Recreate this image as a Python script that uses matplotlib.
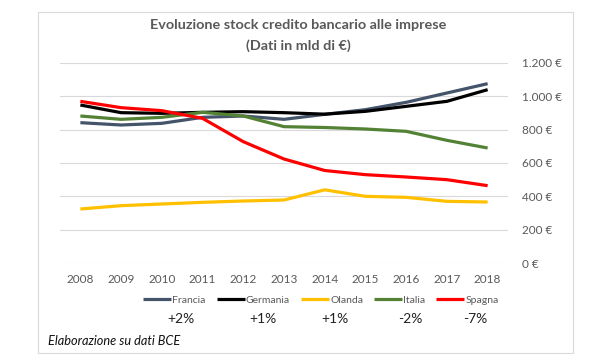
import matplotlib.pyplot as plt
from matplotlib.patches import Rectangle

# Dati (mld di euro)
anni = [2008, 2009, 2010, 2011, 2012, 2013, 2014, 2015, 2016, 2017, 2018]
francia = [842, 828, 838, 874, 882, 862, 892, 920, 964, 1020, 1076]
germania = [948, 902, 898, 904, 908, 902, 893, 910, 940, 970, 1040]
olanda = [324, 344, 354, 364, 372, 378, 439, 400, 394, 370, 366]
italia = [882, 862, 874, 904, 882, 818, 813, 804, 790, 736, 690]
spagna = [970, 932, 914, 868, 728, 624, 555, 530, 516, 500, 464]

serie = [('Francia', francia, '#44546A'),
         ('Germania', germania, '#000000'),
         ('Olanda', olanda, '#FFC000'),
         ('Italia', italia, '#548235'),
         ('Spagna', spagna, '#FF0000')]
variazioni = ['+2%', '+1%', '+1%', '-2%', '-7%']
var_x = [181, 263, 335, 410, 475]
y_ticks = [0, 200, 400, 600, 800, 1000, 1200]

plt.rcParams['font.family'] = ['Lato', 'DejaVu Sans']
grigio = '#595959'

fig = plt.figure(figsize=(6, 3.6), dpi=100)
fig.patches.append(Rectangle((38 / 600, 1 - 353 / 360), 535 / 600, 341 / 360,
                             transform=fig.transFigure, fill=False,
                             edgecolor='#D9D9D9', linewidth=0.8))

ax = fig.add_axes([60 / 600, 1 - 263 / 360, 448 / 600, 200 / 360])
x = list(range(len(anni)))
for nome, vals, col in serie:
    ax.plot(x, vals, color=col, linewidth=2.3, label=nome, solid_capstyle='butt')

ax.set_xlim(-0.5, len(anni) - 0.5)
ax.set_ylim(0, 1200)
ax.set_xticks(x)
ax.set_xticklabels([str(a) for a in anni], fontsize=8.5, color=grigio)
ax.set_yticks(y_ticks)
ax.set_yticklabels([f'{v:,}'.replace(',', '.') + ' €' for v in y_ticks],
                   fontsize=8.5, color=grigio)
ax.yaxis.tick_right()
ax.tick_params(length=0, pad=10)
ax.tick_params(axis='x', pad=8)
ax.grid(axis='y', color='#D9D9D9', linewidth=0.8)
ax.set_axisbelow(True)
for s in ax.spines.values():
    s.set_visible(False)

fig.text(298 / 600, 1 - 25 / 360, 'Evoluzione stock credito bancario alle imprese',
         ha='center', va='center', fontsize=10.4, fontweight='bold', color=grigio)
fig.text(298 / 600, 1 - 46 / 360, '(Dati in mld di €)',
         ha='center', va='center', fontsize=10.4, fontweight='bold', color=grigio)

fig.legend(loc='center', bbox_to_anchor=(321 / 600, 1 - 300 / 360), ncol=5,
           frameon=False, fontsize=7.5, handlelength=2.7, handletextpad=0.1,
           columnspacing=1.05, labelcolor=grigio)

for xp, t in zip(var_x, variazioni):
    fig.text(xp / 600, 1 - 319 / 360, t, ha='center', va='center',
             fontsize=10, color='#222222')

fig.text(48 / 600, 1 - 341 / 360, 'Elaborazione su dati BCE', ha='left',
         va='center', fontsize=9.2, fontstyle='italic', color='#111111')

fig.savefig('out.png', dpi=100)
